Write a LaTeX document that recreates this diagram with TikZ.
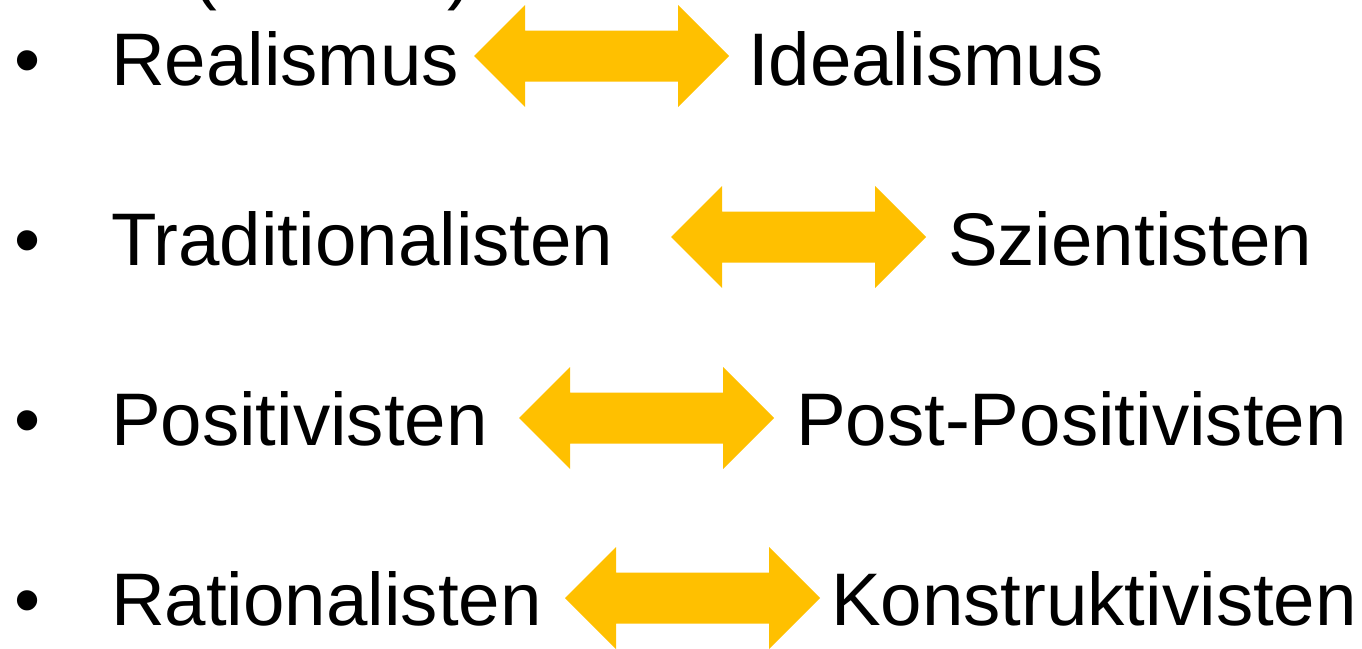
\documentclass[tikz,border=0pt]{standalone}
\usepackage{fontspec}
\setmainfont{Liberation Sans}
\definecolor{arrowgold}{HTML}{FFC000}
\tikzset{
  term/.style={anchor=base west, inner sep=0pt, outer sep=0pt, font=\fontsize{74.5}{80}\selectfont, text=black},
  bulletmark/.style={anchor=base west, inner sep=0pt, outer sep=0pt, font=\fontsize{74.5}{80}\selectfont, text=black},
  darr/.pic={\fill[arrowgold] (0,0) -- (51,-51) -- (51,-25.5) -- (204,-25.5) -- (204,-51) -- (255,0) -- (204,51) -- (204,25.5) -- (51,25.5) -- (51,51) -- cycle;}
}
\begin{document}
\begin{tikzpicture}[x=1pt,y=-1pt]
\clip (0,0) rectangle (1362,648);
\fill[white] (0,0) rectangle (1362,648);
% cut-off heading fragments
\node[term] (pl) at (192,-5) {(};
\node[term] (pr) at (447,-5) {)};
% row 1
\node[bulletmark] (b1) at (14,85) {•};
\node[term] (l1) at (111,85) {Realismus};
\pic (a1) at (474,56) {darr};
\node[term] (r1) at (748,85) {Idealismus};
% row 2
\node[bulletmark] (b2) at (14,265) {•};
\node[term] (l2) at (111,265) {Traditionalisten};
\pic (a2) at (671,237) {darr};
\node[term] (r2) at (948,265) {Szientisten};
% row 3
\node[bulletmark] (b3) at (14,445) {•};
\node[term] (l3) at (111,445) {Positivisten};
\pic (a3) at (519,418) {darr};
\node[term] (r3) at (796,445) {Post-Positivisten};
% row 4
\node[bulletmark] (b4) at (14,625) {•};
\node[term] (l4) at (111,625) {Rationalisten};
\pic (a4) at (565,598) {darr};
\node[term] (r4) at (831,625) {Konstruktivisten};
\end{tikzpicture}
\end{document}
